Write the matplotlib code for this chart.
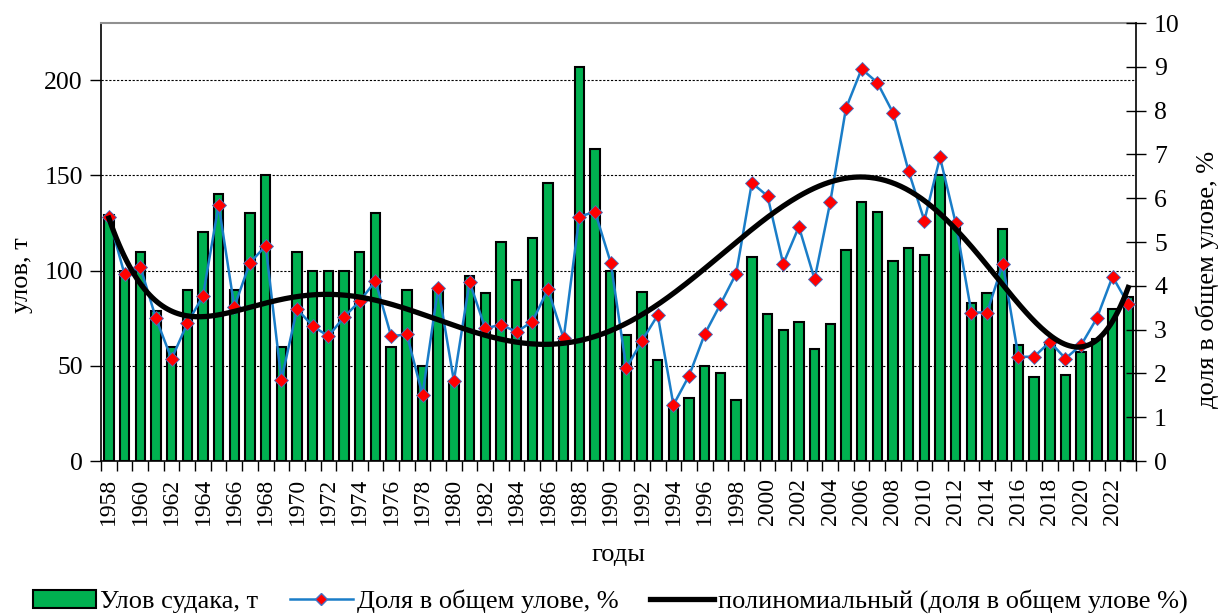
import numpy as np
import matplotlib as mpl
import matplotlib.pyplot as plt
from matplotlib.lines import Line2D
from matplotlib.patches import Patch

mpl.rcParams['font.family'] = ['Liberation Serif', 'DejaVu Serif']

years = list(range(1958, 2024))

# улов судака, т
catch = [129, 100, 110, 79, 60, 90, 120, 140, 90, 130,
         150, 60, 110, 100, 100, 100, 110, 130, 60, 90,
         50, 90, 42, 97, 88, 115, 95, 117, 146, 65,
         207, 164, 100, 66, 89, 53, 30, 33, 50, 46,
         32, 107, 77, 69, 73, 59, 72, 111, 136, 131,
         105, 112, 108, 150, 125, 83, 88, 122, 61, 44,
         62, 45, 57, 64, 80, 86]

# доля в общем улове, %
share = [5.56, 4.26, 4.44, 3.26, 2.33, 3.14, 3.77, 5.85, 3.52, 4.53,
         4.91, 1.85, 3.47, 3.08, 2.85, 3.29, 3.65, 4.11, 2.85, 2.89,
         1.51, 3.96, 1.83, 4.09, 3.03, 3.11, 2.95, 3.18, 3.92, 2.80,
         5.58, 5.69, 4.53, 2.12, 2.75, 3.33, 1.28, 1.95, 2.90, 3.58,
         4.28, 6.35, 6.05, 4.50, 5.35, 4.15, 5.91, 8.05, 8.95, 8.64,
         7.95, 6.61, 5.49, 6.93, 5.43, 3.39, 3.39, 4.50, 2.38, 2.38,
         2.72, 2.34, 2.65, 3.26, 4.21, 3.58]

x = np.arange(len(years))

# полиномиальный тренд 6-й степени, как в Excel
trend = np.polynomial.Polynomial.fit(x, share, 6)
xt = np.linspace(x[0], x[-1], 400)

fig = plt.figure(figsize=(12.2, 6.15), dpi=100)
ax = fig.add_axes([0.0828, 0.2504, 0.8484, 0.7122])
ax2 = ax.twinx()

ax.bar(x, catch, width=0.6, color='#00B050', edgecolor='black', linewidth=1.5, zorder=2)
ax.set_ylim(0, 230)
ax.set_yticks([0, 50, 100, 150, 200])
ax.set_xlim(-0.5, len(years) - 0.5)
for v in [50, 100, 150, 200]:
    ax.axhline(v, color='black', linestyle=(0, (2, 1.5)), linewidth=0.8, zorder=1)

ax.set_xticks(np.arange(-0.5, len(years), 1))
ax.set_xticklabels([])
ax.set_xticks(x[::2], minor=True)
ax.set_xticklabels([str(y) for y in years[::2]], minor=True, rotation=90)
ax.tick_params(axis='x', which='major', length=7, width=1, direction='out')
ax.tick_params(axis='x', which='minor', length=0, labelsize=17, pad=12)
ax.tick_params(axis='y', length=8, width=1, direction='out', labelsize=18.5, pad=5)

ax.spines['top'].set_color('#909090')
ax.spines['top'].set_linewidth(1.5)
ax.spines['left'].set_linewidth(1.2)
ax.spines['bottom'].set_linewidth(1.2)
ax.spines['right'].set_visible(False)

ax2.plot(x, share, color='#1A7DC8', linewidth=1.8, marker='D', markersize=7.5,
         markerfacecolor='#FF0000', markeredgecolor='#4472C4', markeredgewidth=0.6, zorder=3)
ax2.plot(xt, trend(xt), color='black', linewidth=3.8, zorder=4)
ax2.set_ylim(0, 10)
ax2.set_yticks(range(0, 11))
ax2.tick_params(axis='y', length=14, width=1, direction='inout', labelsize=18.5, pad=6)
ax2.spines['right'].set_linewidth(1.2)
ax2.spines['top'].set_visible(False)
ax2.spines['left'].set_visible(False)
ax2.spines['bottom'].set_visible(False)

ax.set_ylabel('улов, т', fontsize=19)
ax.yaxis.set_label_coords(-0.066, 0.425)
ax2.set_ylabel('доля в общем улове, %', fontsize=19)
ax2.yaxis.set_label_coords(1.057, 0.415)
ax.set_xlabel('годы', fontsize=19)
ax.xaxis.set_label_coords(0.5, -0.19)

handles = [Patch(facecolor='#00B050', edgecolor='black', linewidth=1.5),
           Line2D([], [], color='#1A7DC8', linewidth=1.8, marker='D', markersize=6,
                  markerfacecolor='#FF0000', markeredgecolor='#4472C4'),
           Line2D([], [], color='black', linewidth=3.8)]
labels = ['Улов судака, т', 'Доля в общем улове, %',
          'полиномиальный (доля в общем улове %)']
fig.legend(handles, labels, loc='center', bbox_to_anchor=(0.5, 0.022), ncol=3,
           frameon=False, fontsize=19, handlelength=2.4, handletextpad=0.15,
           columnspacing=1.2)

fig.savefig('out.png', dpi=100)
